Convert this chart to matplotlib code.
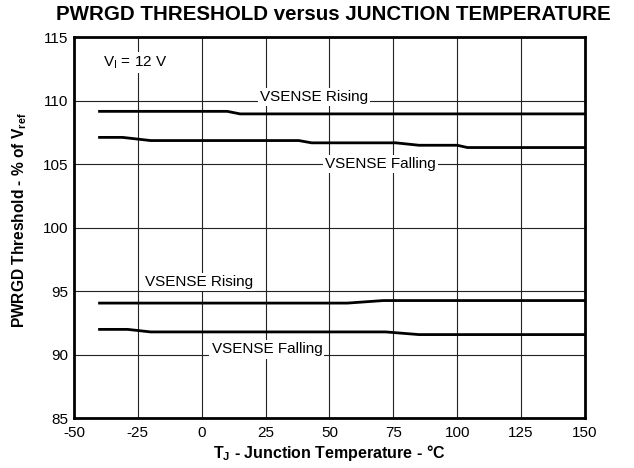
"""PWRGD threshold vs junction temperature (datasheet style)."""

import matplotlib

matplotlib.use("Agg")
import matplotlib.pyplot as plt

plt.rcParams["font.family"] = ["Liberation Sans", "DejaVu Sans"]
plt.rcParams["mathtext.fontset"] = "custom"
plt.rcParams["mathtext.rm"] = "Liberation Sans"
plt.rcParams["mathtext.it"] = "Liberation Sans"
plt.rcParams["mathtext.bf"] = "Liberation Sans:bold"
plt.rcParams["axes.unicode_minus"] = False

# upper threshold (overvoltage side)
temp_hi_rise = [-40, 10, 15, 150]
hi_rise = [109.15, 109.15, 108.95, 108.95]
temp_hi_fall = [-40, -31, -20, 38, 43, 76, 85, 100, 104, 150]
hi_fall = [107.1, 107.1, 106.85, 106.85, 106.67, 106.67, 106.48, 106.48, 106.3, 106.3]

# lower threshold (undervoltage side)
temp_lo_rise = [-40, 57, 71, 150]
lo_rise = [94.05, 94.05, 94.25, 94.25]
temp_lo_fall = [-40, -29, -20, 72, 85, 150]
lo_fall = [91.98, 91.98, 91.78, 91.78, 91.57, 91.57]

x_ticks = [-50, -25, 0, 25, 50, 75, 100, 125, 150]
y_ticks = [85, 90, 95, 100, 105, 110, 115]

fig = plt.figure(figsize=(6.34, 4.68), dpi=100)
ax = fig.add_axes([0.1167, 0.1068, 0.806, 0.814])

for xs, ys in [(temp_hi_rise, hi_rise), (temp_hi_fall, hi_fall),
               (temp_lo_rise, lo_rise), (temp_lo_fall, lo_fall)]:
    ax.plot(xs, ys, color="black", linewidth=2.0, zorder=3)

ax.set_xlim(-50, 150)
ax.set_ylim(85, 115)
ax.set_xticks(x_ticks)
ax.set_yticks(y_ticks)
ax.tick_params(length=0, labelsize=11)
ax.tick_params(axis="x", pad=6)
ax.tick_params(axis="y", pad=4)
ax.grid(True, color="#222222", linewidth=0.8)
ax.set_axisbelow(True)
for sp in ax.spines.values():
    sp.set_linewidth(2.0)

box = dict(facecolor="white", edgecolor="none", pad=1.5)
labels = [
    (43.9, 110.3, "VSENSE Rising"),
    (69.8, 105.0, "VSENSE Falling"),
    (-1.0, 95.7, "VSENSE Rising"),
    (25.5, 90.4, "VSENSE Falling"),
]
for lx, ly, txt in labels:
    ax.text(lx, ly, txt, ha="center", va="center", fontsize=11, bbox=box, zorder=4)

ax.text(-38.5, 113, r"V$_\mathregular{I}$ = 12 V", ha="left", va="center",
        fontsize=11, bbox=box, zorder=4)

ax.set_xlabel(r"T$_\mathbf{J}$ - Junction Temperature - °C", fontsize=11.5,
              fontweight="bold", labelpad=2)
ax.set_ylabel(r"PWRGD Threshold - % of V$_\mathbf{ref}$", fontsize=11.2,
              fontweight="bold")
ax.yaxis.set_label_coords(-0.088, 0.52)
fig.suptitle("PWRGD THRESHOLD versus JUNCTION TEMPERATURE", fontsize=14.8,
             fontweight="bold", x=0.525, y=0.99)

fig.savefig("out.png", dpi=100)
plt.close(fig)
